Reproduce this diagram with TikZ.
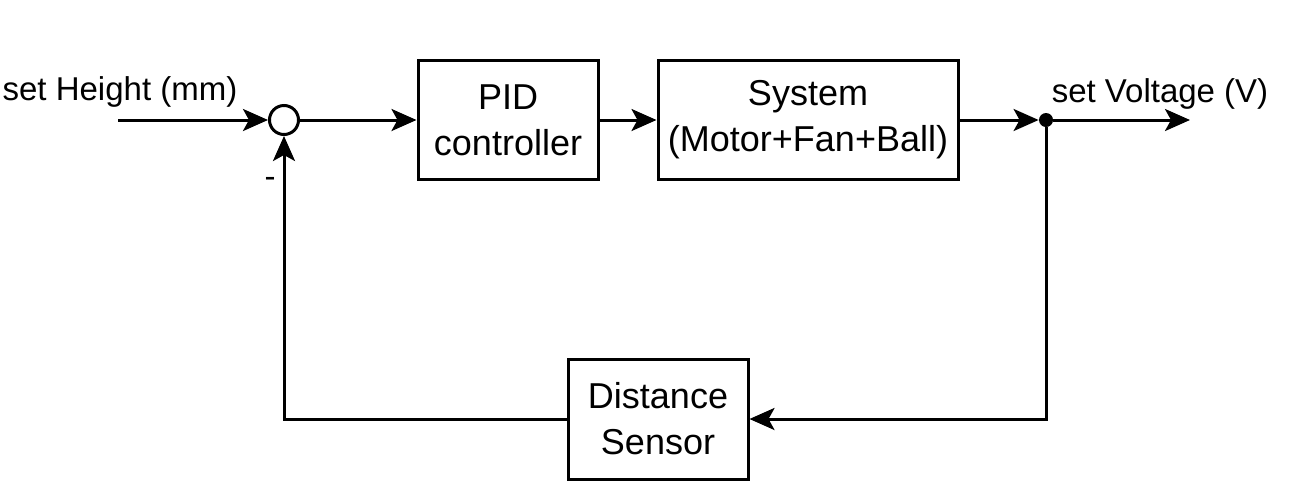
\documentclass[tikz,border=0pt]{standalone}
\usepackage{fontspec}
\setmainfont{Liberation Sans}
\usepackage{tikz}
\usetikzlibrary{positioning,arrows.meta,calc}

\tikzset{
  blockbox/.style={draw, line width=1.5pt, align=center, inner sep=0pt, font=\fontsize{18}{23}\selectfont},
  sumnode/.style={draw, circle, line width=1.5pt, minimum size=14.5pt, inner sep=0pt},
  tapdot/.style={fill, circle, minimum size=7pt, inner sep=0pt},
  flow/.style={line width=1.5pt, -{Stealth[length=12.5pt,width=11pt,inset=3pt]}},
}

\begin{document}
\begin{tikzpicture}[x=0.5pt,y=-0.5pt, every node/.style={font=\fontsize{16.5}{22}\selectfont}]
  \useasboundingbox (0,0) rectangle (1290,499);
  % forward path
  \coordinate (in) at (118,120);
  \node[sumnode] (sum) at (284,120) {};
  \node[blockbox, minimum width=90pt, minimum height=59.5pt] (pid) at (508,120) {PID\\controller};
  \node[blockbox, minimum width=150pt, minimum height=59.5pt] (plant) at (808,120) {System\\(Motor+Fan+Ball)};
  \node[tapdot] (tap) at (1046,120) {};
  \coordinate (out) at (1190,120);
  % feedback path
  \node[blockbox, minimum width=90pt, minimum height=60pt] (sensor) at (658,419) {Distance\\Sensor};
  % labels
  \node (hlabel) at (120,92) {set Height (mm)};
  \node (vlabel) at (1160,94) {set Voltage (V)};
  \node (minus) at (270,182) {-};
  % connectors
  \draw[flow] (in) -- (sum);
  \draw[flow] (sum) -- (pid);
  \draw[flow] (pid) -- (plant);
  \draw[flow] (plant) -- (tap);
  \draw[flow] (tap) -- (out);
  \draw[flow] (tap) |- (sensor.east);
  \draw[flow] (sensor.west) -| (sum.south);
\end{tikzpicture}
\end{document}
